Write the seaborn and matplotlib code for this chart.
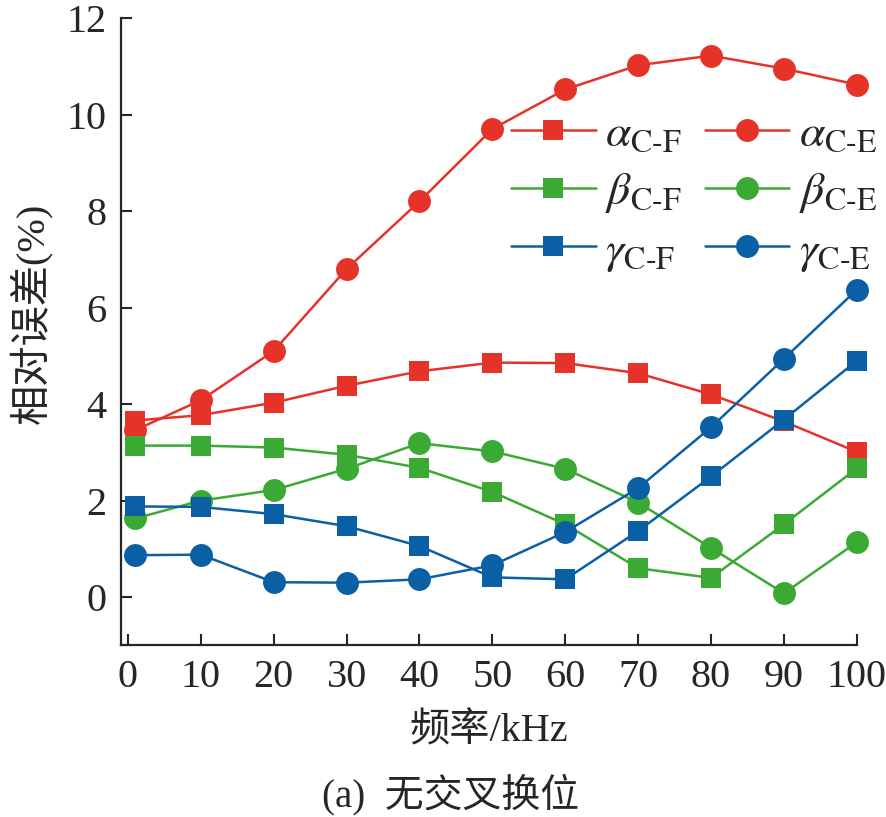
import seaborn as sns
import matplotlib.pyplot as plt
import pandas as pd

# 数据
freq = [1, 10, 20, 30, 40, 50, 60, 70, 80, 90, 100]
alpha_cf = [3.66, 3.77, 4.03, 4.38, 4.68, 4.86, 4.85, 4.64, 4.20, 3.64, 3.01]
alpha_ce = [3.46, 4.08, 5.10, 6.80, 8.20, 9.70, 10.52, 11.02, 11.22, 10.95, 10.62]
beta_cf = [3.14, 3.14, 3.10, 2.95, 2.68, 2.18, 1.51, 0.60, 0.40, 1.51, 2.67]
beta_ce = [1.63, 2.00, 2.22, 2.66, 3.19, 3.02, 2.66, 1.96, 1.02, 0.08, 1.14]
gamma_cf = [1.88, 1.87, 1.72, 1.47, 1.06, 0.41, 0.37, 1.37, 2.50, 3.68, 4.90]
gamma_ce = [0.87, 0.88, 0.31, 0.30, 0.37, 0.66, 1.35, 2.26, 3.52, 4.94, 6.37]

labels = [r'$\alpha_{\text{C-F}}$', r'$\alpha_{\text{C-E}}$',
          r'$\beta_{\text{C-F}}$', r'$\beta_{\text{C-E}}$',
          r'$\gamma_{\text{C-F}}$', r'$\gamma_{\text{C-E}}$']
series = [alpha_cf, alpha_ce, beta_cf, beta_ce, gamma_cf, gamma_ce]

red, green, blue = '#e6332a', '#3aaa35', '#0b5fa5'
colors = [red, red, green, green, blue, blue]
markers = ['s', 'o', 's', 'o', 's', 'o']
msizes = [14.5, 16.5, 14.5, 16.5, 14.5, 16.5]

sns.set_style('ticks')
plt.rcParams['font.family'] = ['Liberation Serif', 'Noto Sans CJK SC']
plt.rcParams['mathtext.fontset'] = 'stix'

fig = plt.figure(figsize=(8.87, 8.17), dpi=100)
ax = fig.add_axes([0.136, 0.21, 0.830, 0.768])

for vals, lab, c, m, ms in zip(series, labels, colors, markers, msizes):
    df = pd.DataFrame({'f': freq, 'v': vals})
    sns.lineplot(data=df, x='f', y='v', ax=ax, color=c, marker=m,
                 markersize=ms, markeredgewidth=0, linewidth=1.8,
                 label=lab, clip_on=False)

ax.set_xlim(-1, 100)
ax.set_ylim(-1, 12)
ax.set_xticks(range(0, 101, 10))
ax.set_yticks(range(0, 13, 2))
ax.tick_params(direction='in', length=8, width=1.5, labelsize=29, pad=10)
for s in ['left', 'bottom']:
    ax.spines[s].set_linewidth(1.6)
sns.despine(ax=ax)

ax.set_xlabel('频率/kHz', fontsize=29, labelpad=12)
ax.set_ylabel('相对误差(%)', fontsize=29)
ax.yaxis.set_label_coords(-0.093, 0.53)

h, l = ax.get_legend_handles_labels()
order = [0, 2, 4, 1, 3, 5]
ax.legend([h[i] for i in order], [l[i] for i in order], ncol=2,
          frameon=False, fontsize=33, handlelength=1.85, handletextpad=0.2,
          columnspacing=0.5, labelspacing=0.33, borderpad=0.1,
          loc='upper right', bbox_to_anchor=(1.02, 0.895),
          bbox_transform=fig.transFigure)

fig.text(0.508, 1 - 795 / 817, '(a)  无交叉换位', fontsize=28,
         ha='center', va='center')

plt.savefig('out.png', dpi=100)
